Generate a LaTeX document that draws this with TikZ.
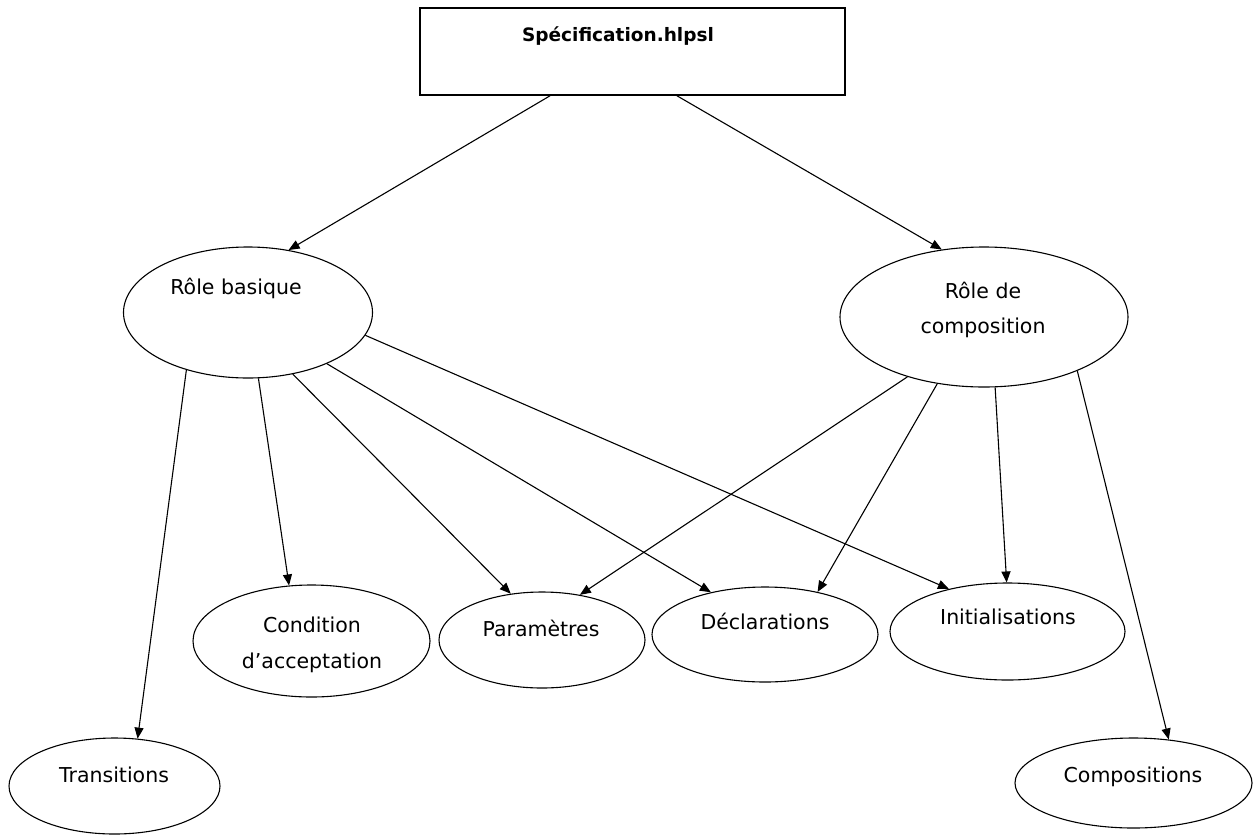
\documentclass[tikz,border=0pt]{standalone}
\usepackage{fontspec}
\setmainfont{DejaVu Sans}
\usetikzlibrary{arrows.meta,shapes.geometric}
\tikzset{
  oval/.style={draw=black, line width=1.1pt, ellipse, inner sep=0pt},
  topbox/.style={draw=black, line width=1.6pt, rectangle, inner sep=0pt, minimum width=425pt, minimum height=87pt},
  lbl/.style={font=\fontsize{20.5}{24}\selectfont, anchor=base, inner sep=0pt},
  ttl/.style={font=\fontsize{18.5}{22}\selectfont\bfseries, anchor=base, inner sep=0pt},
  arr/.style={draw=black, line width=1.1pt, -{Triangle[length=11pt,width=9pt]}}
}
\begin{document}
\begin{tikzpicture}[x=1pt,y=-1pt]
\path[use as bounding box, fill=white] (0,0) rectangle (1253,836);

% top box
\node[topbox] (spec) at (632.5,51.5) {};
\node[ttl] (spect) at (618,41) {Spécification.hlpsl};

% ellipses
\node[oval, minimum width=249pt, minimum height=131pt] (basique) at (248,312.5) {};
\node[lbl] (basiquet) at (236,294) {Rôle basique};

\node[oval, minimum width=288pt, minimum height=140pt] (compo) at (984,317) {};
\node[lbl] (compot1) at (983,298) {Rôle de};
\node[lbl] (compot2) at (983,333) {composition};

\node[oval, minimum width=237pt, minimum height=112pt] (cond) at (311.5,641) {};
\node[lbl] (condt1) at (312,632) {Condition};
\node[lbl] (condt2) at (312,668) {d’acceptation};

\node[oval, minimum width=206pt, minimum height=96pt] (param) at (542,640) {};
\node[lbl] (paramt) at (541,636) {Paramètres};

\node[oval, minimum width=226pt, minimum height=95pt] (decl) at (765,634.5) {};
\node[lbl] (declt) at (765,629) {Déclarations};

\node[oval, minimum width=235pt, minimum height=97pt] (init) at (1007.5,631.5) {};
\node[lbl] (initt) at (1008,624) {Initialisations};

\node[oval, minimum width=211pt, minimum height=96pt] (trans) at (114.5,786) {};
\node[lbl] (transt) at (114,782) {Transitions};

\node[oval, minimum width=237pt, minimum height=90pt] (comps) at (1133.5,783) {};
\node[lbl] (compst) at (1133,782) {Compositions};

% connectors
\draw[arr] ([xshift=-82.5pt]spec.south) -- (basique.57.2);
\draw[arr] ([xshift=44.5pt]spec.south) -- (compo.122.2);

\draw[arr] (basique.223.8) -- (trans.64.5);
\draw[arr] (basique.-81.3) -- (cond.112);
\draw[arr] (basique.-54.8) -- (param.124.2);
\draw[arr] (basique.-33.3) -- (decl.142.5);
\draw[arr] (basique.-11.2) -- (init.144.3);

\draw[arr] (compo.-142.9) -- (param.50.6);
\draw[arr] (compo.-125) -- (decl.39.2);
\draw[arr] (compo.-81.9) -- (init.91.8);
\draw[arr] (compo.-30.3) -- (comps.51.6);
\end{tikzpicture}
\end{document}
